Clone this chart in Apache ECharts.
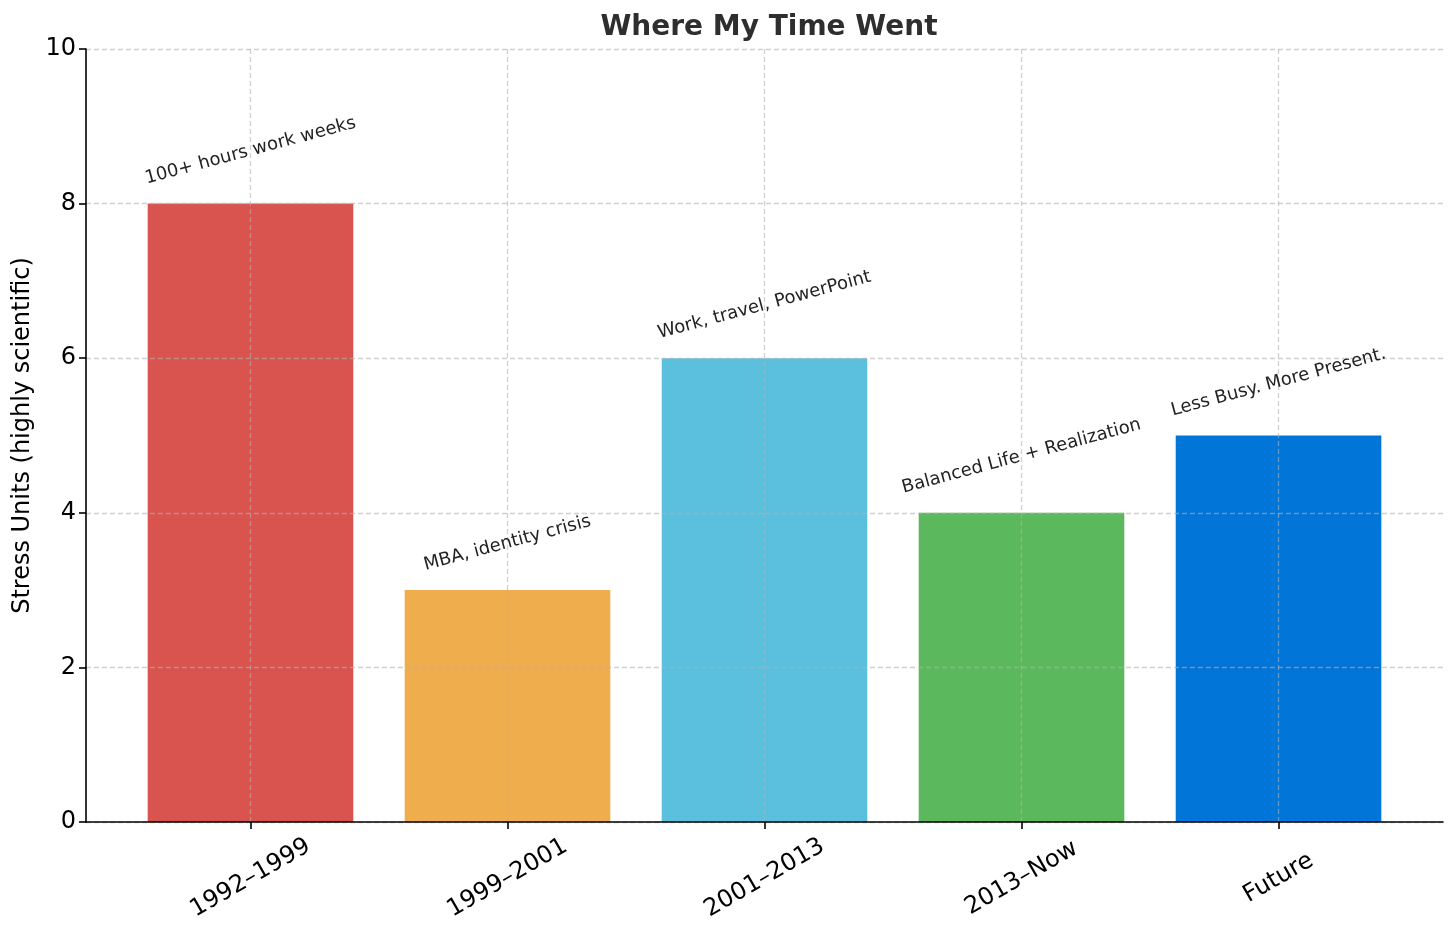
<!DOCTYPE html>
<html>
<head>
<meta charset="utf-8">
<script src="https://cdn.jsdelivr.net/npm/echarts@6/dist/echarts.min.js"></script>
<style>
html,body{margin:0;padding:0;background:#fff;}
#chart{width:1456px;height:934px;}
</style>
</head>
<body>
<div id="chart"></div>
<script>
// ---- data ----
var categories = ['1992–1999', '1999–2001', '2001–2013', '2013–Now', 'Future'];
var stressValues = [8, 3, 6, 4, 5];
var annotations = ['100+ hours work weeks', 'MBA, identity crisis', 'Work, travel, PowerPoint', 'Balanced Life + Realization', 'Less Busy. More Present.'];
var barColors = ['#d9534f', '#f0ad4e', '#5bc0de', '#5cb85c', '#0275d8'];
var yTicks = [0, 2, 4, 6, 8, 10];

var FONT = '"DejaVu Sans", "Liberation Sans", sans-serif';
var GRID = {left: 86, right: 13, top: 49, bottom: 112};
var XMIN = -0.64, XMAX = 4.64;
var plotW = 1456 - GRID.left - GRID.right;
var barPx = 0.8 * plotW / (XMAX - XMIN);
var annFont = 18;
var annRot = 15 * Math.PI / 180;

var mctx = document.createElement('canvas').getContext('2d');
mctx.font = annFont + 'px ' + FONT;
function textW(t) { return mctx.measureText(t).width; }

var idx = categories.map(function (c, i) { return i; });

var chart = echarts.init(document.getElementById('chart'), null, {renderer: 'canvas'});
var gridLine = {show: true, lineStyle: {color: 'rgba(176,176,176,0.6)', type: [5, 3], width: 1.3}};

chart.setOption({
  backgroundColor: '#ffffff',
  animation: false,
  title: {
    text: 'Where My Time Went',
    left: 764, top: 9, textAlign: 'center',
    textStyle: {fontFamily: FONT, fontSize: 28, fontWeight: 'bold', color: '#2e2e2e'}
  },
  grid: GRID,
  xAxis: {
    type: 'value', min: XMIN, max: XMAX, z: 5,
    axisLine: {show: true, onZero: false, lineStyle: {color: '#000', width: 1.6}},
    axisTick: {show: true, length: 7, customValues: idx, lineStyle: {color: '#000', width: 1.6}},
    axisLabel: {
      customValues: idx, rotate: 30, align: 'center', verticalAlign: 'middle', margin: 56,
      fontFamily: FONT, fontSize: 24, color: '#000',
      formatter: function (v) { var k = Math.round(v); return categories[k] || ''; }
    },
    splitLine: gridLine
  },
  yAxis: {
    type: 'value', min: 0, max: 10, interval: 2, z: 5,
    name: 'Stress Units (highly scientific)', nameLocation: 'middle', nameGap: 45,
    nameTextStyle: {fontFamily: FONT, fontSize: 24, color: '#000'},
    axisLine: {show: true, onZero: false, lineStyle: {color: '#000', width: 1.6}},
    axisTick: {show: true, length: 7, lineStyle: {color: '#000', width: 1.6}},
    axisLabel: {fontFamily: FONT, fontSize: 24, color: '#000', margin: 10,
      formatter: function (v) { return yTicks.indexOf(v) >= 0 ? String(v) : ''; }},
    splitLine: gridLine
  },
  series: [
    {
      type: 'bar',
      barWidth: barPx,
      z: 2,
      data: stressValues.map(function (v, i) {
        return {value: [i, v], itemStyle: {color: barColors[i]}};
      })
    },
    {
      type: 'custom',
      z: 6,
      silent: true,
      data: stressValues.map(function (v, i) { return [i, v]; }),
      renderItem: function (params, api) {
        var i = api.value(0);
        var p = api.coord([i, api.value(1) + 0.2]);
        var txt = annotations[i];
        var L = textW(txt), h = annFont * 1.05;
        var H = L * Math.sin(annRot) + h * Math.cos(annRot);
        return {
          type: 'text',
          x: p[0], y: p[1] - H / 2,
          rotation: annRot,
          style: {
            text: txt, x: 0, y: 0, align: 'center', verticalAlign: 'middle',
            font: annFont + 'px ' + FONT, fill: '#222222'
          }
        };
      }
    }
  ]
});
</script>
</body>
</html>
